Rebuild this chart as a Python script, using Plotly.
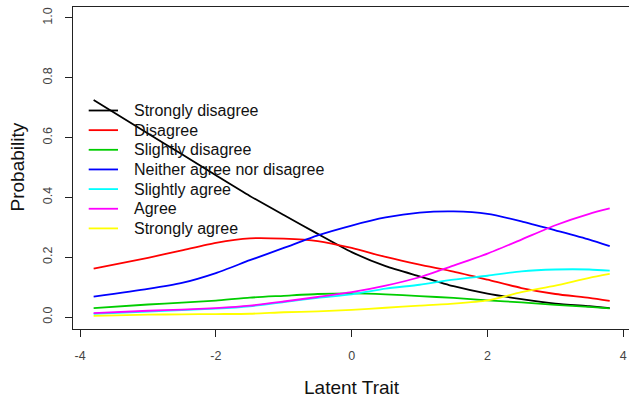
import plotly.graph_objects as go

theta = [-3.8, -3, -2.5, -2, -1.5, -1, -0.5, 0, 0.5, 1, 1.5, 2, 2.5, 3, 3.5, 3.8]

strongly_disagree = [0.726, 0.614, 0.544, 0.474, 0.405, 0.341, 0.278, 0.217, 0.170, 0.136, 0.103, 0.078, 0.060, 0.045, 0.036, 0.030]
disagree = [0.162, 0.198, 0.223, 0.248, 0.263, 0.262, 0.254, 0.231, 0.201, 0.175, 0.152, 0.125, 0.097, 0.077, 0.064, 0.054]
slightly_disagree = [0.030, 0.042, 0.048, 0.055, 0.065, 0.071, 0.077, 0.079, 0.076, 0.070, 0.064, 0.056, 0.049, 0.041, 0.034, 0.029]
neither = [0.068, 0.094, 0.114, 0.147, 0.190, 0.231, 0.273, 0.306, 0.333, 0.349, 0.353, 0.345, 0.320, 0.290, 0.259, 0.237]
slightly_agree = [0.011, 0.018, 0.023, 0.028, 0.036, 0.050, 0.064, 0.076, 0.095, 0.108, 0.125, 0.138, 0.153, 0.159, 0.159, 0.155]
agree = [0.013, 0.021, 0.025, 0.030, 0.038, 0.052, 0.067, 0.083, 0.105, 0.133, 0.172, 0.212, 0.259, 0.307, 0.345, 0.363]
strongly_agree = [0.004, 0.008, 0.009, 0.010, 0.011, 0.016, 0.019, 0.024, 0.031, 0.038, 0.045, 0.056, 0.083, 0.105, 0.131, 0.144]

labels = ["Strongly disagree", "Disagree", "Slightly disagree", "Neither agree nor disagree",
          "Slightly agree", "Agree", "Strongly agree"]
series = [strongly_disagree, disagree, slightly_disagree, neither, slightly_agree, agree, strongly_agree]
colors = ["#000000", "#FF0000", "#00CD00", "#0000FF", "#00FFFF", "#FF00FF", "#FFFF00"]

x_ticks = [-4, -2, 0, 2, 4]
y_ticks = [0.0, 0.2, 0.4, 0.6, 0.8, 1.0]
y_tick_text = ["0.0", "0.2", "0.4", "0.6", "0.8", "1.0"]
x_title = "Latent Trait"
y_title = "Probability"

FONT = "Liberation Sans, Arial, sans-serif"

fig = go.Figure()
for name, vals, col in zip(labels, series, colors):
    fig.add_trace(go.Scatter(x=theta, y=vals, mode="lines", name=name,
                             line=dict(color=col, width=1.8, shape="spline", smoothing=0.6),
                             showlegend=False))

W, H = 629, 400
ml, mr, mt, mb = 73, 0, 6, 71
pw = W - ml - mr
ph = H - mt - mb


def px_x(x):
    return (x - ml) / pw


def px_y(y):
    return 1 - (y - mt) / ph


# manual R-style legend (bty="n")
leg_x0, leg_x1, leg_tx = 88.7, 118, 132
leg_y0, leg_dy = 110.5, 19.65
for i, (name, col) in enumerate(zip(labels, colors)):
    yy = leg_y0 + i * leg_dy
    fig.add_shape(type="line", xref="paper", yref="paper",
                  x0=px_x(leg_x0), x1=px_x(leg_x1), y0=px_y(yy), y1=px_y(yy),
                  line=dict(color=col, width=1.8))
    fig.add_annotation(xref="paper", yref="paper", x=px_x(leg_tx), y=px_y(yy),
                       text=name, showarrow=False, xanchor="left", yanchor="middle",
                       font=dict(size=16, color="#111", family=FONT))

# axis titles
fig.add_annotation(xref="paper", yref="paper", x=px_x(351.5), y=px_y(387),
                   text=x_title, showarrow=False, xanchor="center", yanchor="middle",
                   font=dict(size=19, color="#111", family=FONT))
fig.add_annotation(xref="paper", yref="paper", x=px_x(17), y=px_y(167.5),
                   text=y_title, showarrow=False, xanchor="center", yanchor="middle",
                   textangle=-90, font=dict(size=19, color="#111", family=FONT))

# top border of box
fig.add_shape(type="line", xref="paper", yref="paper", x0=0, x1=1,
              y0=px_y(6.5), y1=px_y(6.5), layer="above",
              line=dict(color="#222", width=1.2))

fig.update_layout(
    width=W, height=H,
    margin=dict(l=ml, r=mr, t=mt, b=mb, pad=0),
    paper_bgcolor="white", plot_bgcolor="white",
    font=dict(family=FONT, color="#222"),
    xaxis=dict(range=[-4.104, 4.084], tickvals=x_ticks, ticktext=[str(v) for v in x_ticks],
               showgrid=False, zeroline=False, showline=True, linecolor="#222", linewidth=1,
               ticks="outside", ticklen=7, tickcolor="#222", tickwidth=1, automargin=False,
               tickfont=dict(size=12.5, color="#444"), ticklabelstandoff=8),
    yaxis=dict(range=[-0.04, 1.04], tickvals=y_ticks, ticktext=y_tick_text,
               showgrid=False, zeroline=False, showline=True, linecolor="#222", linewidth=1,
               ticks="outside", ticklen=7, tickcolor="#222", tickwidth=1, tickangle=-90,
               automargin=False, tickfont=dict(size=12.5, color="#444"), ticklabelstandoff=8),
)

fig.write_html("out.html", config={"displayModeBar": False},
               post_script="document.body.style.margin='0';")
